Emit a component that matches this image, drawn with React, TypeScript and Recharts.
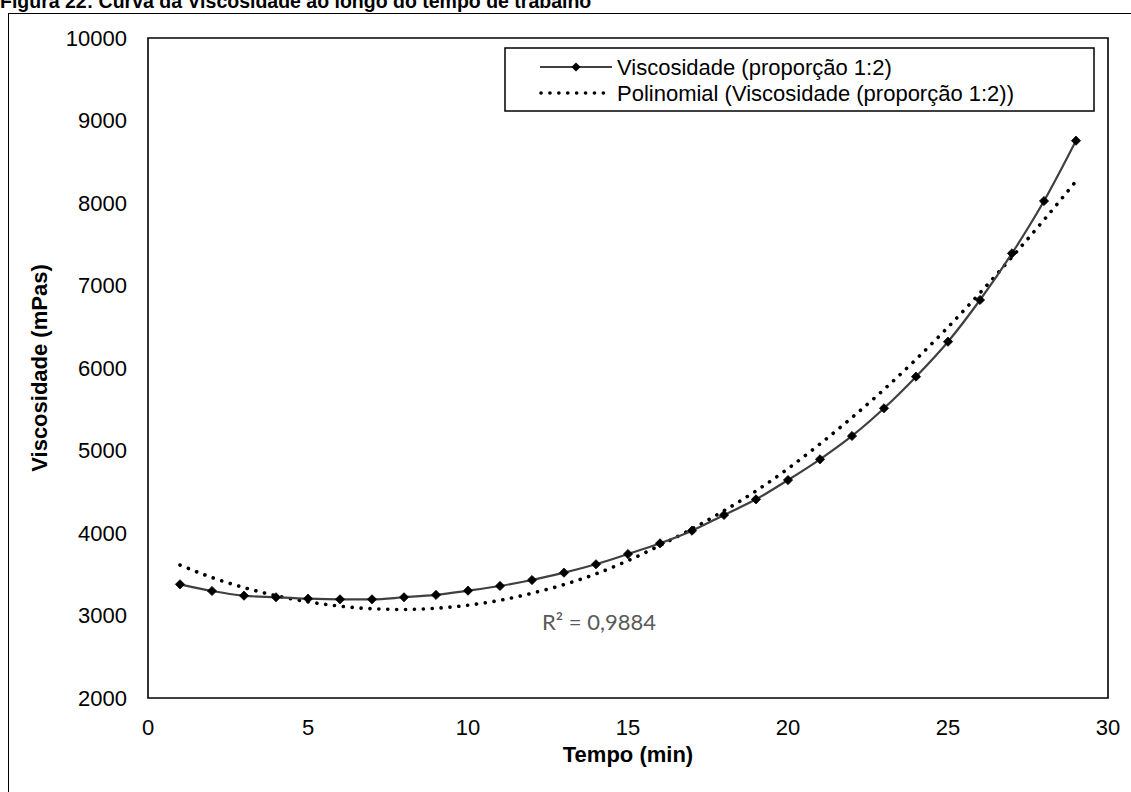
import React from "react";
import {
  LineChart,
  Line,
  XAxis,
  YAxis,
  ReferenceArea,
} from "recharts";

// tempo (min)
const tempo = [
  1, 2, 3, 4, 5, 6, 7, 8, 9, 10, 11, 12, 13, 14, 15, 16, 17, 18, 19, 20, 21,
  22, 23, 24, 25, 26, 27, 28, 29,
];

// viscosidade medida (mPas), proporção 1:2
const viscosidade = [
  3378, 3297, 3240, 3221, 3204, 3196, 3196, 3221, 3250, 3301, 3358, 3430, 3519,
  3621, 3745, 3875, 4028, 4218, 4408, 4642, 4893, 5176, 5512, 5895, 6319, 6824,
  7390, 8024, 8755,
];

// linha de tendência polinomial
const tendencia = [
  3612, 3460, 3338, 3240, 3166, 3113, 3082, 3073, 3088, 3125, 3184, 3270, 3375,
  3505, 3665, 3850, 4050, 4270, 4510, 4780, 5080, 5400, 5740, 6105, 6495, 6910,
  7345, 7795, 8265,
];

const xTicks = [0, 5, 10, 15, 20, 25, 30];
const yTicks = [2000, 3000, 4000, 5000, 6000, 7000, 8000, 9000, 10000];

const serieLabel = "Viscosidade (proporção 1:2)";
const tendLabel = "Polinomial (Viscosidade (proporção 1:2))";
const r2Label = "R² = 0,9884";

const data = tempo.map((t, i) => ({
  t,
  visc: viscosidade[i],
  tend: tendencia[i],
}));

const FONT = "'Liberation Sans', Arial, sans-serif";

function Diamond(props: any) {
  const { cx, cy } = props;
  if (cx == null || cy == null) return null;
  const s = 4.6;
  return (
    <path
      d={`M${cx},${cy - s}L${cx + s},${cy}L${cx},${cy + s}L${cx - s},${cy}Z`}
      fill="#000"
      stroke="#000"
      strokeWidth={0.8}
    />
  );
}

export default function App() {
  return (
    <div
      style={{
        position: "absolute",
        left: 0,
        top: 0,
        width: 1131,
        height: 792,
        overflow: "hidden",
        background: "#fff",
        fontFamily: FONT,
      }}
    >
      {/* frame around the figure */}
      <div
        style={{
          position: "absolute",
          left: 8,
          top: 13,
          width: 1200,
          height: 900,
          border: "1.5px solid #000",
        }}
      />
      <div style={{ position: "absolute", left: 0, top: 0 }}>
        <LineChart
          width={1131}
          height={792}
          data={data}
          margin={{ top: 38, right: 23, bottom: 64, left: 88 }}
        >
          <ReferenceArea
            x1={0}
            x2={30}
            y1={2000}
            y2={10000}
            fill="none"
            stroke="#000"
            strokeWidth={1.6}
            ifOverflow="visible"
          />
          <XAxis
            dataKey="t"
            type="number"
            domain={[0, 30]}
            ticks={xTicks}
            axisLine={false}
            tickLine={false}
            tickSize={0}
            tickMargin={21}
            height={30}
            tick={{ fontSize: 22, fill: "#000", fontFamily: FONT }}
          />
          <YAxis
            type="number"
            domain={[2000, 10000]}
            ticks={yTicks}
            axisLine={false}
            tickLine={false}
            tickSize={0}
            tickMargin={21}
            width={60}
            tick={{ fontSize: 22, fill: "#000", fontFamily: FONT }}
          />
          <Line
            type="monotone"
            dataKey="tend"
            stroke="#000"
            strokeWidth={3.6}
            strokeDasharray="0.1 8.8"
            strokeLinecap="round"
            dot={false}
            activeDot={false}
            isAnimationActive={false}
          />
          <Line
            type="monotone"
            dataKey="visc"
            stroke="#404040"
            strokeWidth={2.2}
            dot={<Diamond />}
            activeDot={false}
            isAnimationActive={false}
          />
        </LineChart>
      </div>

      {/* title, legend and axis titles */}
      <svg
        width={1131}
        height={792}
        style={{ position: "absolute", left: 0, top: 0, pointerEvents: "none" }}
      >
        <text x={0} y={7.5} fontSize={19.5} fontWeight="bold" fontFamily={FONT}>
          Figura 22: Curva da Viscosidade ao longo do tempo de trabalho
        </text>

        <text
          x={628}
          y={762}
          fontSize={22}
          fontWeight="bold"
          textAnchor="middle"
          fontFamily={FONT}
        >
          Tempo (min)
        </text>
        <text
          transform="translate(47,368) rotate(-90)"
          fontSize={22}
          fontWeight="bold"
          textAnchor="middle"
          fontFamily={FONT}
        >
          Viscosidade (mPas)
        </text>

        <text
          x={542}
          y={630}
          fontSize={22}
          fill="#595959"
          fontFamily="Lato, 'Open Sans', sans-serif"
        >
          {r2Label}
        </text>

        <rect
          x={505}
          y={48}
          width={589}
          height={63}
          fill="#fff"
          stroke="#000"
          strokeWidth={1.5}
        />
        <line x1={540} y1={67} x2={612} y2={67} stroke="#404040" strokeWidth={2} />
        <path d="M576,62.4L580.6,67L576,71.6L571.4,67Z" fill="#000" />
        <text x={617} y={75} fontSize={22} fontFamily={FONT}>
          {serieLabel}
        </text>
        <line
          x1={541}
          y1={93}
          x2={606}
          y2={93}
          stroke="#000"
          strokeWidth={3.6}
          strokeDasharray="0.1 8.8"
          strokeLinecap="round"
        />
        <text x={617} y={101} fontSize={22} fontFamily={FONT}>
          {tendLabel}
        </text>
      </svg>
    </div>
  );
}
